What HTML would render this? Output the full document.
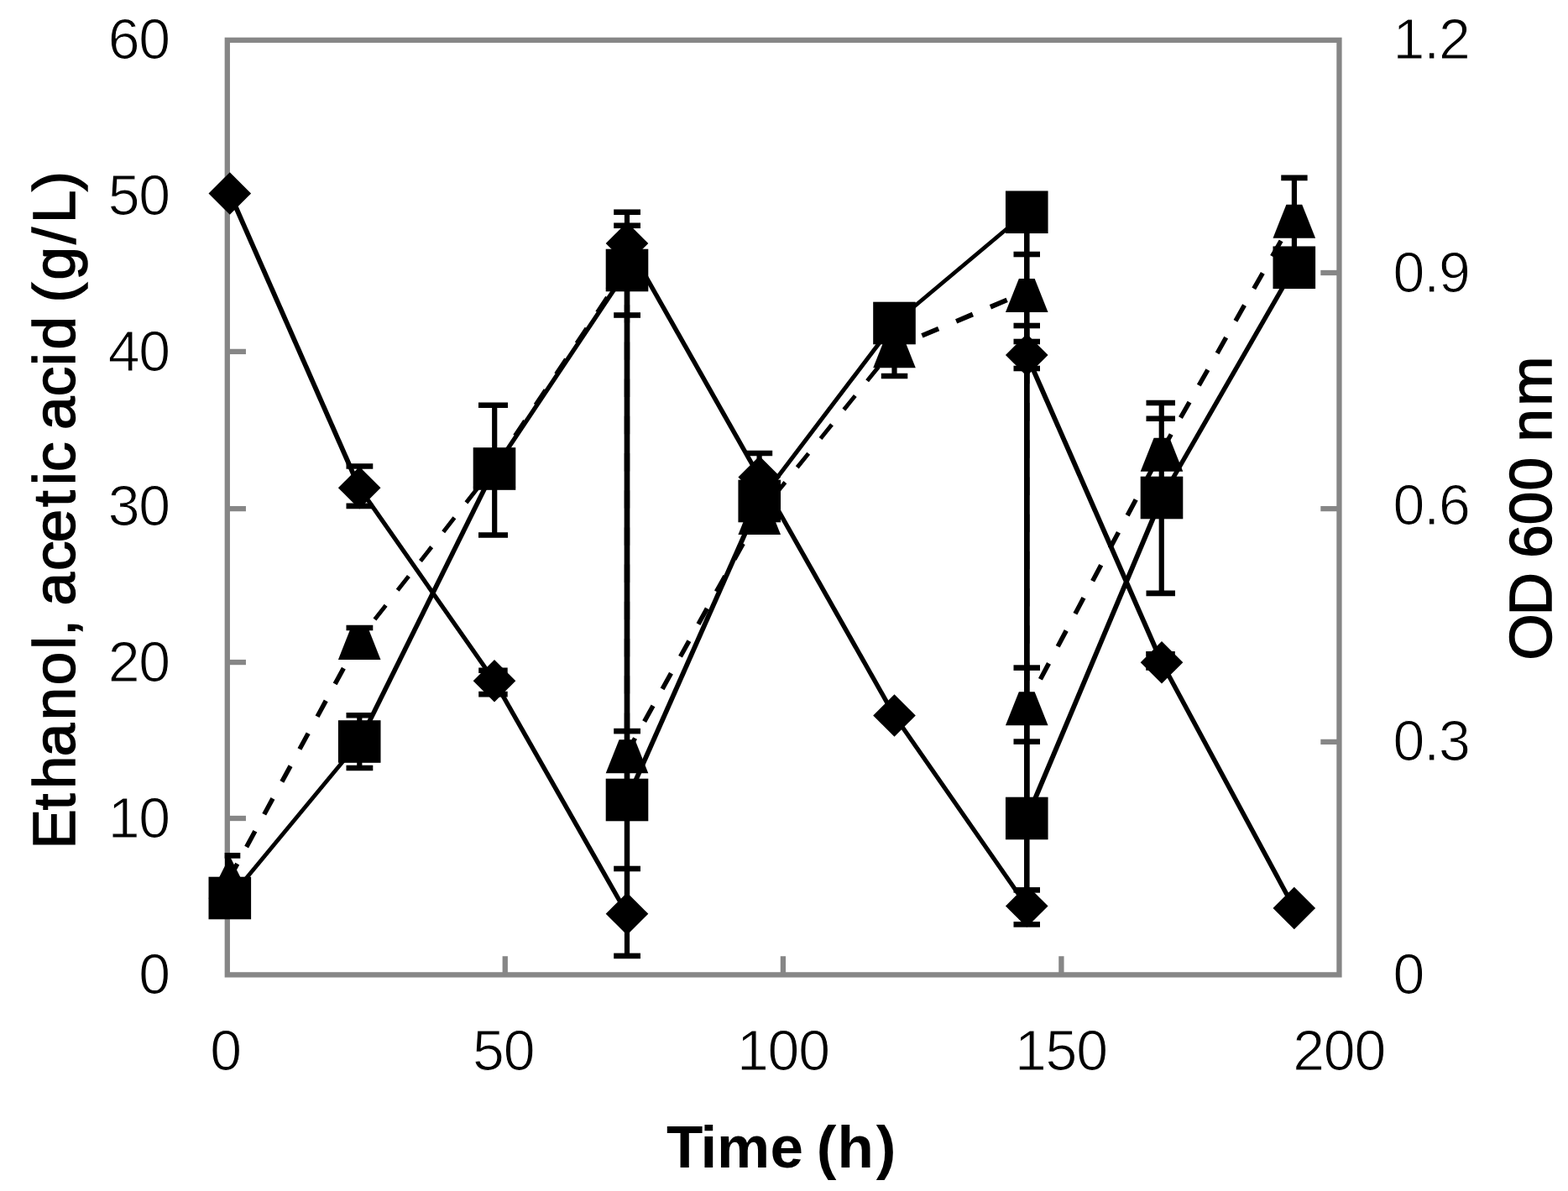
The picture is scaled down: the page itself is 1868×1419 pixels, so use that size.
<!DOCTYPE html>
<html lang="en"><head><meta charset="utf-8"><title>Ethanol, acetic acid and OD 600 nm over time</title>
<style>
html,body{margin:0;padding:0;background:#fff;}
body{width:1868px;height:1419px;overflow:hidden;}
svg{display:block;}
text{font-family:"Liberation Sans","DejaVu Sans",sans-serif;fill:#000;}
.num{font-size:68px;stroke:#fff;stroke-width:1.1px;letter-spacing:-1.2px;}
.ttl{font-size:71px;font-weight:normal;stroke:#000;stroke-width:1.5px;stroke-linejoin:miter;}
</style></head><body>
<svg width="1868" height="1419" viewBox="0 0 1868 1419">
<rect x="0" y="0" width="1868" height="1419" fill="#ffffff"/>
<defs><clipPath id="pa"><rect x="267.65" y="0" width="1330.95" height="1419"/></clipPath></defs>
<g fill="none" stroke="#868686" stroke-width="6.30" stroke-linecap="butt">
<rect x="270.80" y="47.80" width="1324.65" height="1113.60"/>
<line x1="270.80" y1="975.00" x2="292.95" y2="975.00"/>
<line x1="270.80" y1="789.05" x2="292.95" y2="789.05"/>
<line x1="270.80" y1="606.10" x2="292.95" y2="606.10"/>
<line x1="270.80" y1="418.90" x2="292.95" y2="418.90"/>
<line x1="270.80" y1="233.30" x2="292.95" y2="233.30"/>
<line x1="1573.30" y1="883.90" x2="1595.45" y2="883.90"/>
<line x1="1573.30" y1="606.10" x2="1595.45" y2="606.10"/>
<line x1="1573.30" y1="325.00" x2="1595.45" y2="325.00"/>
<line x1="601.75" y1="1139.25" x2="601.75" y2="1161.40"/>
<line x1="932.90" y1="1139.25" x2="932.90" y2="1161.40"/>
<line x1="1264.40" y1="1139.25" x2="1264.40" y2="1161.40"/>
</g>
<g fill="none" stroke="#000" stroke-linecap="butt">
<line x1="273.80" y1="230.50" x2="428.20" y2="581.25" stroke-width="5.77"/>
<line x1="428.20" y1="581.25" x2="589.00" y2="811.25" stroke-width="5.16"/>
<line x1="589.00" y1="811.25" x2="747.00" y2="1088.75" stroke-width="5.47"/>
<line x1="747.00" y1="1088.75" x2="747.00" y2="290.00" stroke-width="6.30"/>
<line x1="747.00" y1="290.00" x2="904.75" y2="568.50" stroke-width="5.48"/>
<line x1="904.75" y1="568.50" x2="1065.50" y2="852.50" stroke-width="5.48"/>
<line x1="1065.50" y1="852.50" x2="1223.25" y2="1079.50" stroke-width="5.17"/>
<line x1="1223.25" y1="1079.50" x2="1223.25" y2="423.00" stroke-width="6.30"/>
<line x1="1223.25" y1="423.00" x2="1384.00" y2="789.25" stroke-width="5.77"/>
<line x1="1384.00" y1="789.25" x2="1541.80" y2="1082.00" stroke-width="5.55"/>
<line x1="273.80" y1="1070.00" x2="428.20" y2="883.50" stroke-width="4.85"/>
<line x1="428.20" y1="883.50" x2="589.00" y2="558.50" stroke-width="5.65"/>
<line x1="589.00" y1="558.50" x2="747.00" y2="322.00" stroke-width="5.24"/>
<line x1="747.00" y1="322.00" x2="747.00" y2="953.00" stroke-width="6.30"/>
<line x1="747.00" y1="953.00" x2="904.75" y2="597.00" stroke-width="5.76"/>
<line x1="904.75" y1="597.00" x2="1065.50" y2="385.00" stroke-width="5.02"/>
<line x1="1065.50" y1="385.00" x2="1223.25" y2="252.75" stroke-width="4.83"/>
<line x1="1223.25" y1="252.75" x2="1223.25" y2="975.00" stroke-width="6.30"/>
<line x1="1223.25" y1="975.00" x2="1384.00" y2="593.00" stroke-width="5.81"/>
<line x1="1384.00" y1="593.00" x2="1541.80" y2="318.75" stroke-width="5.46"/>
<line x1="273.80" y1="1045.60" x2="428.20" y2="761.40" stroke-width="5.54" stroke-dasharray="21.4 22.8" stroke-dashoffset="2.62"/>
<line x1="428.20" y1="761.40" x2="589.00" y2="556.00" stroke-width="4.96" stroke-dasharray="21.4 22.8" stroke-dashoffset="14.57"/>
<line x1="589.00" y1="556.00" x2="747.00" y2="319.00" stroke-width="5.24" stroke-dasharray="21.4 22.8" stroke-dashoffset="0.00"/>
<line x1="747.00" y1="319.00" x2="747.00" y2="896.75" stroke-width="6.30" stroke-dasharray="21.4 22.8" stroke-dashoffset="0.00"/>
<line x1="747.00" y1="896.75" x2="904.75" y2="612.50" stroke-width="5.51" stroke-dasharray="21.4 22.8" stroke-dashoffset="1.65"/>
<line x1="904.75" y1="612.50" x2="1065.50" y2="413.75" stroke-width="4.90" stroke-dasharray="21.4 22.8" stroke-dashoffset="16.84"/>
<line x1="1065.50" y1="413.75" x2="1223.25" y2="347.50" stroke-width="5.81" stroke-dasharray="21.4 22.8" stroke-dashoffset="8.50"/>
<line x1="1223.25" y1="347.50" x2="1223.25" y2="839.75" stroke-width="6.30" stroke-dasharray="21.4 22.8" stroke-dashoffset="0.00"/>
<line x1="1223.25" y1="839.75" x2="1384.00" y2="537.25" stroke-width="5.56" stroke-dasharray="21.4 22.8" stroke-dashoffset="9.69"/>
<line x1="1384.00" y1="537.25" x2="1541.80" y2="259.25" stroke-width="5.48" stroke-dasharray="21.4 22.8" stroke-dashoffset="42.87"/>
</g>
<g fill="none" stroke="#000" stroke-width="6.20" clip-path="url(#pa)">
<line x1="271.00" y1="1019.40" x2="271.00" y2="1070.00"/>
<line x1="255.00" y1="1019.40" x2="286.30" y2="1019.40" stroke-width="6.6"/>
<line x1="428.30" y1="555.50" x2="428.30" y2="602.90"/>
<line x1="412.50" y1="555.50" x2="444.30" y2="555.50" stroke-width="6.6"/>
<line x1="412.50" y1="602.90" x2="444.30" y2="602.90" stroke-width="6.6"/>
<line x1="428.30" y1="748.00" x2="428.30" y2="780.00"/>
<line x1="412.50" y1="748.00" x2="444.30" y2="748.00" stroke-width="6.6"/>
<line x1="428.30" y1="852.30" x2="428.30" y2="915.00"/>
<line x1="412.50" y1="852.30" x2="444.30" y2="852.30" stroke-width="6.6"/>
<line x1="412.50" y1="915.00" x2="444.30" y2="915.00" stroke-width="6.6"/>
<line x1="589.20" y1="482.75" x2="589.20" y2="637.50"/>
<line x1="570.00" y1="482.75" x2="605.00" y2="482.75" stroke-width="6.6"/>
<line x1="570.00" y1="637.50" x2="605.00" y2="637.50" stroke-width="6.6"/>
<line x1="588.90" y1="798.75" x2="588.90" y2="827.10"/>
<line x1="570.20" y1="798.75" x2="604.70" y2="798.75" stroke-width="6.6"/>
<line x1="570.20" y1="827.10" x2="604.70" y2="827.10" stroke-width="6.6"/>
<line x1="747.00" y1="252.75" x2="747.00" y2="1138.90"/>
<line x1="731.20" y1="252.75" x2="763.00" y2="252.75" stroke-width="6.6"/>
<line x1="731.20" y1="268.75" x2="763.00" y2="268.75" stroke-width="6.6"/>
<line x1="731.20" y1="375.50" x2="763.00" y2="375.50" stroke-width="6.6"/>
<line x1="731.20" y1="871.10" x2="763.00" y2="871.10" stroke-width="6.6"/>
<line x1="731.20" y1="1035.00" x2="763.00" y2="1035.00" stroke-width="6.6"/>
<line x1="731.20" y1="1138.90" x2="763.00" y2="1138.90" stroke-width="6.6"/>
<line x1="904.60" y1="540.00" x2="904.60" y2="600.00"/>
<line x1="888.75" y1="540.00" x2="920.20" y2="540.00" stroke-width="6.6"/>
<line x1="1065.50" y1="400.00" x2="1065.50" y2="448.00"/>
<line x1="1049.80" y1="448.00" x2="1081.30" y2="448.00" stroke-width="6.6"/>
<line x1="1223.20" y1="252.00" x2="1223.20" y2="1101.40"/>
<line x1="1207.50" y1="303.00" x2="1239.00" y2="303.00" stroke-width="6.6"/>
<line x1="1207.50" y1="388.00" x2="1239.00" y2="388.00" stroke-width="6.6"/>
<line x1="1207.50" y1="407.00" x2="1239.00" y2="407.00" stroke-width="6.6"/>
<line x1="1207.50" y1="439.00" x2="1239.00" y2="439.00" stroke-width="6.6"/>
<line x1="1207.50" y1="795.60" x2="1239.00" y2="795.60" stroke-width="6.6"/>
<line x1="1207.50" y1="883.60" x2="1239.00" y2="883.60" stroke-width="6.6"/>
<line x1="1207.50" y1="1060.40" x2="1239.00" y2="1060.40" stroke-width="6.6"/>
<line x1="1207.50" y1="1101.40" x2="1239.00" y2="1101.40" stroke-width="6.6"/>
<line x1="1383.75" y1="480.00" x2="1383.75" y2="706.90"/>
<line x1="1365.50" y1="480.00" x2="1400.00" y2="480.00" stroke-width="6.6"/>
<line x1="1365.50" y1="498.75" x2="1400.00" y2="498.75" stroke-width="6.6"/>
<line x1="1365.50" y1="706.90" x2="1400.00" y2="706.90" stroke-width="6.6"/>
<line x1="1541.90" y1="211.90" x2="1541.90" y2="300.00"/>
<line x1="1526.25" y1="211.90" x2="1557.60" y2="211.90" stroke-width="6.6"/>
<line x1="1383.75" y1="779.30" x2="1383.75" y2="795.50"/>
<line x1="1365.20" y1="779.30" x2="1399.80" y2="779.30" stroke-width="6.6"/>
<line x1="1365.20" y1="795.50" x2="1399.80" y2="795.50" stroke-width="6.6"/>
</g>
<g fill="#000" stroke="none">
<polygon points="273.80,205.20 299.10,230.50 273.80,255.80 248.50,230.50"/>
<polygon points="428.20,555.95 453.50,581.25 428.20,606.55 402.90,581.25"/>
<polygon points="589.00,785.95 614.30,811.25 589.00,836.55 563.70,811.25"/>
<polygon points="747.00,1063.45 772.30,1088.75 747.00,1114.05 721.70,1088.75"/>
<polygon points="747.00,264.70 772.30,290.00 747.00,315.30 721.70,290.00"/>
<polygon points="904.75,543.20 930.05,568.50 904.75,593.80 879.45,568.50"/>
<polygon points="1065.50,827.20 1090.80,852.50 1065.50,877.80 1040.20,852.50"/>
<polygon points="1223.25,1054.20 1248.55,1079.50 1223.25,1104.80 1197.95,1079.50"/>
<polygon points="1223.25,397.70 1248.55,423.00 1223.25,448.30 1197.95,423.00"/>
<polygon points="1384.00,763.95 1409.30,789.25 1384.00,814.55 1358.70,789.25"/>
<polygon points="1541.80,1056.70 1567.10,1082.00 1541.80,1107.30 1516.50,1082.00"/>
<rect x="248.50" y="1044.70" width="50.60" height="50.60"/>
<rect x="402.90" y="858.20" width="50.60" height="50.60"/>
<rect x="563.70" y="533.20" width="50.60" height="50.60"/>
<rect x="721.70" y="296.70" width="50.60" height="50.60"/>
<rect x="721.70" y="927.70" width="50.60" height="50.60"/>
<rect x="879.45" y="571.70" width="50.60" height="50.60"/>
<rect x="1040.20" y="359.70" width="50.60" height="50.60"/>
<rect x="1197.95" y="227.45" width="50.60" height="50.60"/>
<rect x="1197.95" y="949.70" width="50.60" height="50.60"/>
<rect x="1358.70" y="567.70" width="50.60" height="50.60"/>
<rect x="1516.50" y="293.45" width="50.60" height="50.60"/>
<polygon points="273.80,1020.00 299.10,1070.50 248.50,1070.50"/>
<polygon points="418.80,745.80 437.60,745.80 453.50,785.90 402.90,785.90"/>
<polygon points="579.60,540.40 598.40,540.40 614.30,580.50 563.70,580.50"/>
<polygon points="737.60,303.40 756.40,303.40 772.30,343.50 721.70,343.50"/>
<polygon points="737.60,881.15 756.40,881.15 772.30,921.25 721.70,921.25"/>
<polygon points="895.35,596.90 914.15,596.90 930.05,637.00 879.45,637.00"/>
<polygon points="1056.10,398.15 1074.90,398.15 1090.80,438.25 1040.20,438.25"/>
<polygon points="1213.85,331.90 1232.65,331.90 1248.55,372.00 1197.95,372.00"/>
<polygon points="1213.85,824.15 1232.65,824.15 1248.55,864.25 1197.95,864.25"/>
<polygon points="1374.60,521.65 1393.40,521.65 1409.30,561.75 1358.70,561.75"/>
<polygon points="1532.40,243.65 1551.20,243.65 1567.10,283.75 1516.50,283.75"/>
</g>
<g class="num" text-anchor="end">
<text x="201.9" y="70.05">60</text>
<text x="201.9" y="256.10">50</text>
<text x="201.9" y="442.35">40</text>
<text x="201.9" y="625.50">30</text>
<text x="201.9" y="811.60">20</text>
<text x="201.9" y="998.25">10</text>
<text x="201.9" y="1183.70">0</text>
</g>
<g class="num" text-anchor="start">
<text x="1659.6" y="70.35">1.2</text>
<text x="1659.6" y="347.75">0.9</text>
<text x="1659.6" y="625.30">0.6</text>
<text x="1659.6" y="906.05">0.3</text>
<text x="1659.6" y="1183.80">0</text>
</g>
<g class="num" text-anchor="middle">
<text x="268.50" y="1275.3">0</text>
<text x="599.70" y="1275.3">50</text>
<text x="932.85" y="1275.3">100</text>
<text x="1263.90" y="1275.3">150</text>
<text x="1595.10" y="1275.3">200</text>
</g>
<g class="ttl">
<text transform="translate(89.2,1000) rotate(-90)" x="-11.5 34.8 60.1 98.7 141.7 183.7 226.3 242.3 262.1 278.6 319.9 353.8 396.0 421.9 437.9 473.4 488.0 527.7 564.1 583.6 623.1 639.5 666.6 709.3 733.9 772.2" y="0" style="font-size:71.0px">Ethanol, acetic acid (g/L)</text>
<text transform="translate(1847.6,800) rotate(-90)" x="13.4 66.7 117.9 135.2 174.8 215.5 254.9 273.6 316.3" y="0" style="font-size:71.0px">OD 600 nm</text>
<text x="793.9 834.6 853.9 917.6 957.1 972.7 997.4 1043.7" y="1391.2" style="font-weight:bold;stroke:none;font-size:71.0px">Time (h)</text>
</g>
</svg>
</body></html>
